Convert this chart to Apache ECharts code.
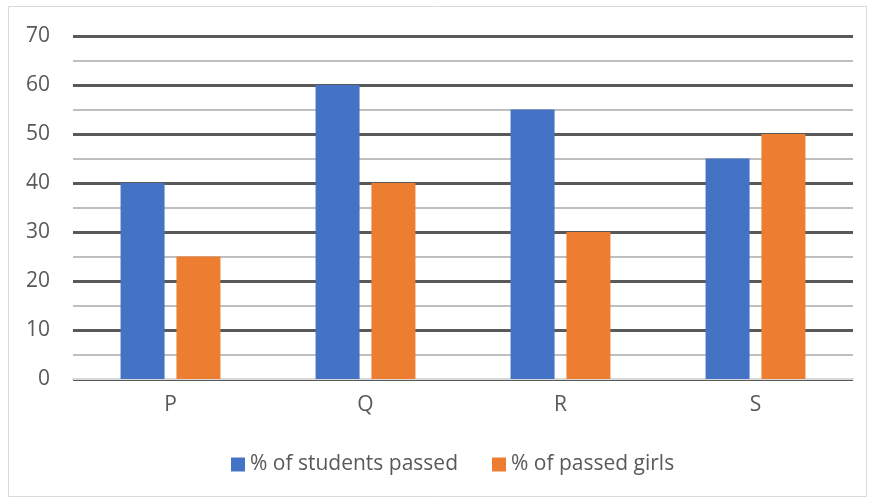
<!DOCTYPE html>
<html>
<head>
<meta charset="utf-8">
<script src="https://cdn.jsdelivr.net/npm/echarts@6/dist/echarts.min.js"></script>
<style>
    html, body { margin: 0; padding: 0; background: #fff; }
    #chart { width: 870px; height: 498px; }
</style>
</head>
<body>
<div id="chart"></div>
<script>
/* ===================== 数据 ===================== */
var categories = ['P', 'Q', 'R', 'S'];
var studentsPassed = [40, 60, 55, 45];
var girlsPassed = [25, 40, 30, 50];
var seriesNames = ['% of students passed', '% of passed girls'];
/* ===================== end ===================== */

var labelFont = '"Open Sans", "Noto Sans", sans-serif';
var chart = echarts.init(document.getElementById('chart'));

chart.setOption({
    color: ['#4472c4', '#ed7d31'],
    animation: false,
    // 外框
    graphic: [{
        type: 'rect',
        shape: { x: 8.5, y: 6.5, width: 858, height: 490 },
        style: { fill: 'none', stroke: '#d9d9d9', lineWidth: 1 },
        silent: true
    }],
    legend: {
        top: 454,
        left: 231,
        padding: 0,
        itemWidth: 14,
        itemHeight: 14,
        itemGap: 34,
        icon: 'rect',
        textStyle: { fontFamily: labelFont, fontSize: 21, color: '#595959' },
        data: seriesNames
    },
    grid: { left: 73, right: 17, top: 36, bottom: 119 },
    xAxis: {
        type: 'category',
        data: categories,
        axisLine: { lineStyle: { color: '#d9d9d9', width: 2 } },
        axisTick: { show: false },
        axisLabel: { margin: 16, fontFamily: labelFont, fontSize: 21, color: '#595959' }
    },
    yAxis: {
        type: 'value',
        min: 0,
        max: 70,
        interval: 10,
        axisLine: { show: false },
        axisTick: { show: false },
        axisLabel: { margin: 23, fontFamily: labelFont, fontSize: 21, color: '#595959' },
        splitLine: { lineStyle: { color: '#595959', width: 3 } },
        minorTick: { show: false, splitNumber: 2 },
        minorSplitLine: { show: true, lineStyle: { color: '#bfbfbf', width: 2 } }
    },
    series: [{
        name: seriesNames[0],
        type: 'bar',
        data: studentsPassed,
        barWidth: 44,
        barGap: '27%'
    }, {
        name: seriesNames[1],
        type: 'bar',
        data: girlsPassed,
        barWidth: 44
    }]
});
</script>
</body>
</html>
